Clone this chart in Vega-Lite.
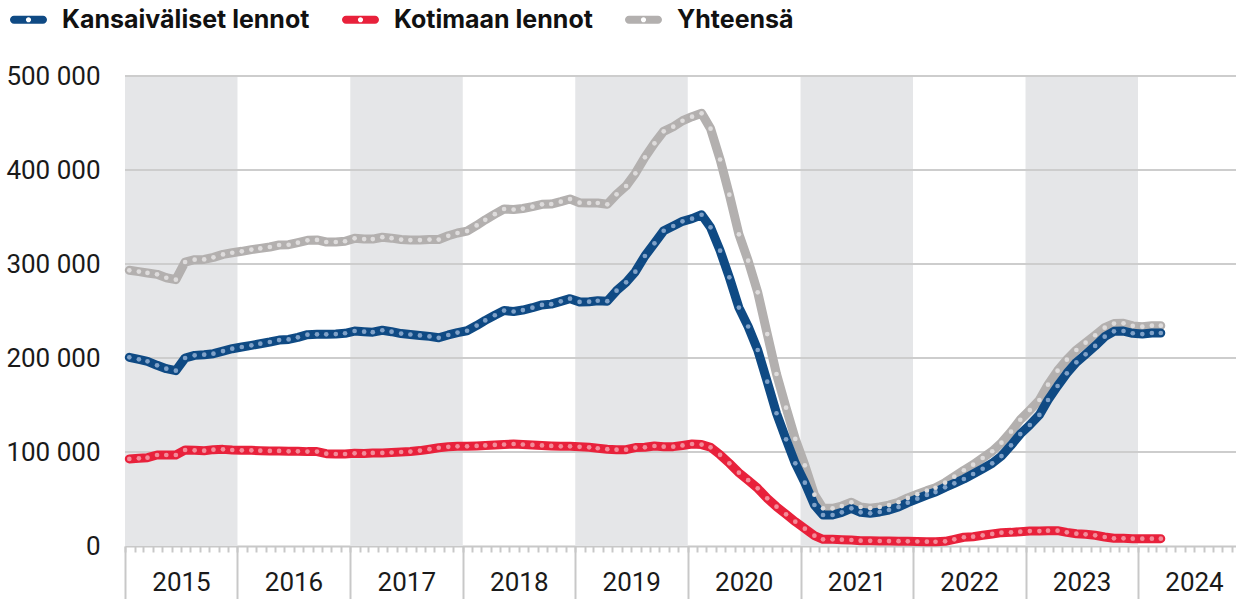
{
  "$schema": "https://vega.github.io/schema/vega-lite/v6.json",
  "width": 1111,
  "height": 470,
  "autosize": {"type": "none"},
  "padding": {"left": 125, "top": 76, "right": 0, "bottom": 53},
  "background": "white",
  "config": {"view": {"stroke": null}, "font": "Roboto"},
  "datasets": {
    "bands": [
      {"start": "2015-01-01", "end": "2016-01-01"},
      {"start": "2017-01-01", "end": "2018-01-01"},
      {"start": "2019-01-01", "end": "2020-01-01"},
      {"start": "2021-01-01", "end": "2022-01-01"},
      {"start": "2023-01-01", "end": "2024-01-01"}
    ],
    "grid": [{"v": 100000}, {"v": 200000}, {"v": 300000}, {"v": 400000}, {"v": 500000}],
    "flights": [
      {"date": "2015-01-15", "Kansaiväliset lennot": 200700, "Kotimaan lennot": 92600, "Yhteensä": 293300},
      {"date": "2015-02-15", "Kansaiväliset lennot": 198600, "Kotimaan lennot": 93300, "Yhteensä": 291900},
      {"date": "2015-03-15", "Kansaiväliset lennot": 196500, "Kotimaan lennot": 94000, "Yhteensä": 290500},
      {"date": "2015-04-15", "Kansaiväliset lennot": 192200, "Kotimaan lennot": 96800, "Yhteensä": 289000},
      {"date": "2015-05-15", "Kansaiväliset lennot": 188600, "Kotimaan lennot": 96800, "Yhteensä": 285400},
      {"date": "2015-06-15", "Kansaiväliset lennot": 186500, "Kotimaan lennot": 96800, "Yhteensä": 283300},
      {"date": "2015-07-15", "Kansaiväliset lennot": 200000, "Kotimaan lennot": 102100, "Yhteensä": 302100},
      {"date": "2015-08-15", "Kansaiväliset lennot": 202800, "Kotimaan lennot": 101800, "Yhteensä": 304600},
      {"date": "2015-09-15", "Kansaiväliset lennot": 203500, "Kotimaan lennot": 101400, "Yhteensä": 304900},
      {"date": "2015-10-15", "Kansaiväliset lennot": 204600, "Kotimaan lennot": 102500, "Yhteensä": 307100},
      {"date": "2015-11-15", "Kansaiväliset lennot": 207400, "Kotimaan lennot": 102800, "Yhteensä": 310200},
      {"date": "2015-12-15", "Kansaiväliset lennot": 209900, "Kotimaan lennot": 102100, "Yhteensä": 312000},
      {"date": "2016-01-15", "Kansaiväliset lennot": 211700, "Kotimaan lennot": 101800, "Yhteensä": 313500},
      {"date": "2016-02-15", "Kansaiväliset lennot": 213500, "Kotimaan lennot": 101800, "Yhteensä": 315300},
      {"date": "2016-03-15", "Kansaiväliset lennot": 215200, "Kotimaan lennot": 101400, "Yhteensä": 316600},
      {"date": "2016-04-15", "Kansaiväliset lennot": 217000, "Kotimaan lennot": 101100, "Yhteensä": 318100},
      {"date": "2016-05-15", "Kansaiväliset lennot": 219100, "Kotimaan lennot": 101100, "Yhteensä": 320200},
      {"date": "2016-06-15", "Kansaiväliset lennot": 219800, "Kotimaan lennot": 100700, "Yhteensä": 320500},
      {"date": "2016-07-15", "Kansaiväliset lennot": 222000, "Kotimaan lennot": 100700, "Yhteensä": 322700},
      {"date": "2016-08-15", "Kansaiväliset lennot": 224800, "Kotimaan lennot": 100400, "Yhteensä": 325200},
      {"date": "2016-09-15", "Kansaiväliset lennot": 225200, "Kotimaan lennot": 100400, "Yhteensä": 325600},
      {"date": "2016-10-15", "Kansaiväliset lennot": 225200, "Kotimaan lennot": 98200, "Yhteensä": 323400},
      {"date": "2016-11-15", "Kansaiväliset lennot": 225500, "Kotimaan lennot": 97900, "Yhteensä": 323400},
      {"date": "2016-12-15", "Kansaiväliset lennot": 226300, "Kotimaan lennot": 97900, "Yhteensä": 324200},
      {"date": "2017-01-15", "Kansaiväliset lennot": 228700, "Kotimaan lennot": 98600, "Yhteensä": 327300},
      {"date": "2017-02-15", "Kansaiväliset lennot": 228000, "Kotimaan lennot": 98500, "Yhteensä": 326500},
      {"date": "2017-03-15", "Kansaiväliset lennot": 227500, "Kotimaan lennot": 99000, "Yhteensä": 326500},
      {"date": "2017-04-15", "Kansaiväliset lennot": 229500, "Kotimaan lennot": 99000, "Yhteensä": 328500},
      {"date": "2017-05-15", "Kansaiväliset lennot": 228000, "Kotimaan lennot": 99500, "Yhteensä": 327500},
      {"date": "2017-06-15", "Kansaiväliset lennot": 226000, "Kotimaan lennot": 100000, "Yhteensä": 326000},
      {"date": "2017-07-15", "Kansaiväliset lennot": 225000, "Kotimaan lennot": 100500, "Yhteensä": 325500},
      {"date": "2017-08-15", "Kansaiväliset lennot": 224000, "Kotimaan lennot": 101500, "Yhteensä": 325500},
      {"date": "2017-09-15", "Kansaiväliset lennot": 223000, "Kotimaan lennot": 103000, "Yhteensä": 326000},
      {"date": "2017-10-15", "Kansaiväliset lennot": 221500, "Kotimaan lennot": 104500, "Yhteensä": 326000},
      {"date": "2017-11-15", "Kansaiväliset lennot": 224500, "Kotimaan lennot": 105500, "Yhteensä": 330000},
      {"date": "2017-12-15", "Kansaiväliset lennot": 227000, "Kotimaan lennot": 106000, "Yhteensä": 333000},
      {"date": "2018-01-15", "Kansaiväliset lennot": 229000, "Kotimaan lennot": 106000, "Yhteensä": 335000},
      {"date": "2018-02-15", "Kansaiväliset lennot": 234500, "Kotimaan lennot": 106500, "Yhteensä": 341000},
      {"date": "2018-03-15", "Kansaiväliset lennot": 240000, "Kotimaan lennot": 107000, "Yhteensä": 347000},
      {"date": "2018-04-15", "Kansaiväliset lennot": 245500, "Kotimaan lennot": 107500, "Yhteensä": 353000},
      {"date": "2018-05-15", "Kansaiväliset lennot": 250500, "Kotimaan lennot": 108000, "Yhteensä": 358500},
      {"date": "2018-06-15", "Kansaiväliset lennot": 249500, "Kotimaan lennot": 108500, "Yhteensä": 358000},
      {"date": "2018-07-15", "Kansaiväliset lennot": 251000, "Kotimaan lennot": 108000, "Yhteensä": 359000},
      {"date": "2018-08-15", "Kansaiväliset lennot": 253500, "Kotimaan lennot": 107500, "Yhteensä": 361000},
      {"date": "2018-09-15", "Kansaiväliset lennot": 256500, "Kotimaan lennot": 107000, "Yhteensä": 363500},
      {"date": "2018-10-15", "Kansaiväliset lennot": 257300, "Kotimaan lennot": 106500, "Yhteensä": 363800},
      {"date": "2018-11-15", "Kansaiväliset lennot": 260300, "Kotimaan lennot": 106000, "Yhteensä": 366300},
      {"date": "2018-12-15", "Kansaiväliset lennot": 263100, "Kotimaan lennot": 106000, "Yhteensä": 369100},
      {"date": "2019-01-15", "Kansaiväliset lennot": 259700, "Kotimaan lennot": 105500, "Yhteensä": 365200},
      {"date": "2019-02-15", "Kansaiväliset lennot": 259900, "Kotimaan lennot": 105000, "Yhteensä": 364900},
      {"date": "2019-03-15", "Kansaiväliset lennot": 260900, "Kotimaan lennot": 104000, "Yhteensä": 364900},
      {"date": "2019-04-15", "Kansaiväliset lennot": 260500, "Kotimaan lennot": 103000, "Yhteensä": 363500},
      {"date": "2019-05-15", "Kansaiväliset lennot": 271600, "Kotimaan lennot": 102500, "Yhteensä": 374100},
      {"date": "2019-06-15", "Kansaiväliset lennot": 280500, "Kotimaan lennot": 102500, "Yhteensä": 383000},
      {"date": "2019-07-15", "Kansaiväliset lennot": 291800, "Kotimaan lennot": 104700, "Yhteensä": 396500},
      {"date": "2019-08-15", "Kansaiväliset lennot": 308500, "Kotimaan lennot": 105000, "Yhteensä": 413500},
      {"date": "2019-09-15", "Kansaiväliset lennot": 322000, "Kotimaan lennot": 106400, "Yhteensä": 428400},
      {"date": "2019-10-15", "Kansaiväliset lennot": 335400, "Kotimaan lennot": 105700, "Yhteensä": 441100},
      {"date": "2019-11-15", "Kansaiväliset lennot": 340400, "Kotimaan lennot": 105700, "Yhteensä": 446100},
      {"date": "2019-12-15", "Kansaiväliset lennot": 345400, "Kotimaan lennot": 107000, "Yhteensä": 452400},
      {"date": "2020-01-15", "Kansaiväliset lennot": 348200, "Kotimaan lennot": 108500, "Yhteensä": 456700},
      {"date": "2020-02-15", "Kansaiväliset lennot": 352400, "Kotimaan lennot": 107900, "Yhteensä": 460300},
      {"date": "2020-03-15", "Kansaiväliset lennot": 339000, "Kotimaan lennot": 105000, "Yhteensä": 444000},
      {"date": "2020-04-15", "Kansaiväliset lennot": 314200, "Kotimaan lennot": 97000, "Yhteensä": 411200},
      {"date": "2020-05-15", "Kansaiväliset lennot": 285800, "Kotimaan lennot": 88000, "Yhteensä": 373800},
      {"date": "2020-06-15", "Kansaiväliset lennot": 253600, "Kotimaan lennot": 78000, "Yhteensä": 331600},
      {"date": "2020-07-15", "Kansaiväliset lennot": 233500, "Kotimaan lennot": 70000, "Yhteensä": 303500},
      {"date": "2020-08-15", "Kansaiväliset lennot": 208500, "Kotimaan lennot": 61400, "Yhteensä": 269900},
      {"date": "2020-09-15", "Kansaiväliset lennot": 174800, "Kotimaan lennot": 50700, "Yhteensä": 225500},
      {"date": "2020-10-15", "Kansaiväliset lennot": 141200, "Kotimaan lennot": 41800, "Yhteensä": 183000},
      {"date": "2020-11-15", "Kansaiväliset lennot": 113500, "Kotimaan lennot": 33700, "Yhteensä": 147200},
      {"date": "2020-12-15", "Kansaiväliset lennot": 88000, "Kotimaan lennot": 25900, "Yhteensä": 113900},
      {"date": "2021-01-15", "Kansaiväliset lennot": 67400, "Kotimaan lennot": 18400, "Yhteensä": 85800},
      {"date": "2021-02-15", "Kansaiväliset lennot": 43600, "Kotimaan lennot": 11000, "Yhteensä": 54600},
      {"date": "2021-03-15", "Kansaiväliset lennot": 33000, "Kotimaan lennot": 7100, "Yhteensä": 40100},
      {"date": "2021-04-15", "Kansaiväliset lennot": 33000, "Kotimaan lennot": 7100, "Yhteensä": 40100},
      {"date": "2021-05-15", "Kansaiväliset lennot": 35800, "Kotimaan lennot": 6700, "Yhteensä": 42500},
      {"date": "2021-06-15", "Kansaiväliset lennot": 40100, "Kotimaan lennot": 6400, "Yhteensä": 46500},
      {"date": "2021-07-15", "Kansaiväliset lennot": 35800, "Kotimaan lennot": 5700, "Yhteensä": 41500},
      {"date": "2021-08-15", "Kansaiväliset lennot": 34800, "Kotimaan lennot": 5500, "Yhteensä": 40300},
      {"date": "2021-09-15", "Kansaiväliset lennot": 36200, "Kotimaan lennot": 5300, "Yhteensä": 41500},
      {"date": "2021-10-15", "Kansaiväliset lennot": 38300, "Kotimaan lennot": 5200, "Yhteensä": 43500},
      {"date": "2021-11-15", "Kansaiväliset lennot": 41500, "Kotimaan lennot": 5100, "Yhteensä": 46600},
      {"date": "2021-12-15", "Kansaiväliset lennot": 46100, "Kotimaan lennot": 5000, "Yhteensä": 51100},
      {"date": "2022-01-15", "Kansaiväliset lennot": 50300, "Kotimaan lennot": 4800, "Yhteensä": 55100},
      {"date": "2022-02-15", "Kansaiväliset lennot": 54300, "Kotimaan lennot": 4600, "Yhteensä": 58900},
      {"date": "2022-03-15", "Kansaiväliset lennot": 57400, "Kotimaan lennot": 4500, "Yhteensä": 61900},
      {"date": "2022-04-15", "Kansaiväliset lennot": 62400, "Kotimaan lennot": 5000, "Yhteensä": 67400},
      {"date": "2022-05-15", "Kansaiväliset lennot": 66700, "Kotimaan lennot": 7100, "Yhteensä": 73800},
      {"date": "2022-06-15", "Kansaiväliset lennot": 71300, "Kotimaan lennot": 9300, "Yhteensä": 80600},
      {"date": "2022-07-15", "Kansaiväliset lennot": 76600, "Kotimaan lennot": 9900, "Yhteensä": 86500},
      {"date": "2022-08-15", "Kansaiväliset lennot": 82200, "Kotimaan lennot": 11400, "Yhteensä": 93600},
      {"date": "2022-09-15", "Kansaiväliset lennot": 88000, "Kotimaan lennot": 12800, "Yhteensä": 100800},
      {"date": "2022-10-15", "Kansaiväliset lennot": 95700, "Kotimaan lennot": 14200, "Yhteensä": 109900},
      {"date": "2022-11-15", "Kansaiväliset lennot": 107100, "Kotimaan lennot": 14500, "Yhteensä": 121600},
      {"date": "2022-12-15", "Kansaiväliset lennot": 119100, "Kotimaan lennot": 15200, "Yhteensä": 134300},
      {"date": "2023-01-15", "Kansaiväliset lennot": 128700, "Kotimaan lennot": 15900, "Yhteensä": 144600},
      {"date": "2023-02-15", "Kansaiväliset lennot": 139400, "Kotimaan lennot": 15900, "Yhteensä": 155300},
      {"date": "2023-03-15", "Kansaiväliset lennot": 155300, "Kotimaan lennot": 16300, "Yhteensä": 171600},
      {"date": "2023-04-15", "Kansaiväliset lennot": 170200, "Kotimaan lennot": 16300, "Yhteensä": 186500},
      {"date": "2023-05-15", "Kansaiväliset lennot": 183700, "Kotimaan lennot": 14500, "Yhteensä": 198200},
      {"date": "2023-06-15", "Kansaiväliset lennot": 195400, "Kotimaan lennot": 13100, "Yhteensä": 208500},
      {"date": "2023-07-15", "Kansaiväliset lennot": 203900, "Kotimaan lennot": 12400, "Yhteensä": 216300},
      {"date": "2023-08-15", "Kansaiväliset lennot": 212800, "Kotimaan lennot": 11400, "Yhteensä": 224200},
      {"date": "2023-09-15", "Kansaiväliset lennot": 222700, "Kotimaan lennot": 9600, "Yhteensä": 232300},
      {"date": "2023-10-15", "Kansaiväliset lennot": 228400, "Kotimaan lennot": 8200, "Yhteensä": 236600},
      {"date": "2023-11-15", "Kansaiväliset lennot": 228700, "Kotimaan lennot": 8200, "Yhteensä": 236900},
      {"date": "2023-12-15", "Kansaiväliset lennot": 226300, "Kotimaan lennot": 7800, "Yhteensä": 234100},
      {"date": "2024-01-15", "Kansaiväliset lennot": 225500, "Kotimaan lennot": 7800, "Yhteensä": 233300},
      {"date": "2024-02-15", "Kansaiväliset lennot": 226600, "Kotimaan lennot": 7800, "Yhteensä": 234400},
      {"date": "2024-03-15", "Kansaiväliset lennot": 226600, "Kotimaan lennot": 7800, "Yhteensä": 234400}
    ]
  },
  "layer": [
    {
      "data": {"name": "bands"},
      "mark": {"type": "rect", "color": "#e5e6e8"},
      "encoding": {
        "x": {"field": "start", "type": "temporal", "scale": {"domain": ["2015-01-01", "2024-11-14"], "nice": false}, "axis": null},
        "x2": {"field": "end"}
      }
    },
    {
      "data": {"name": "grid"},
      "mark": {"type": "rule", "color": "#cdcdcd", "strokeWidth": 2},
      "encoding": {
        "y": {
          "field": "v", "type": "quantitative",
          "scale": {"domain": [0, 500000], "nice": false},
          "axis": {
            "orient": "left", "title": null,
            "values": [0, 100000, 200000, 300000, 400000, 500000],
            "domain": false, "ticks": false, "grid": false,
            "labelPadding": 25, "labelFont": "Roboto", "labelFontSize": 26, "labelColor": "#1a1a1a",
            "labelFlush": false, "labelOverlap": false, "labelBaseline": "middle",
            "labelExpr": "datum.value == 0 ? '0' : format(datum.value / 1000, 'd') + ' 000'",
            "encode": {"labels": {"update": {"dy": {"signal": "datum.value == 0 ? -6 : -3"}}}}
          }
        }
      }
    },
    {
      "data": {"name": "flights"},
      "transform": [{"fold": ["Yhteensä", "Kansaiväliset lennot", "Kotimaan lennot"], "as": ["series", "value"]}],
      "mark": {"type": "line", "strokeWidth": 9, "strokeCap": "round", "strokeJoin": "round"},
      "encoding": {
        "x": {
          "field": "date", "type": "temporal",
          "scale": {"domain": ["2015-01-01", "2024-11-14"], "nice": false},
          "axis": {
            "orient": "bottom", "title": null, "labels": false, "grid": false,
            "tickCount": {"interval": "month", "step": 1},
            "domain": true, "domainColor": "#c8c8c8", "domainWidth": 2,
            "tickColor": "#c8c8c8", "tickWidth": 2, "tickSize": 6
          }
        },
        "y": {"field": "value", "type": "quantitative", "scale": {"domain": [0, 500000], "nice": false}, "axis": null},
        "color": {
          "field": "series", "type": "nominal",
          "scale": {"domain": ["Kansaiväliset lennot", "Kotimaan lennot", "Yhteensä"], "range": ["#0f4a84", "#e8213b", "#b3b0af"]},
          "legend": {
            "orient": "none", "legendX": -115, "legendY": -75, "direction": "horizontal", "title": null,
            "symbolType": "M -0.784 -0.216 L 0.784 -0.216 A 0.216 0.216 0 0 1 0.784 0.216 L -0.784 0.216 A 0.216 0.216 0 0 1 -0.784 -0.216 Z M 0.14 0 A 0.14 0.14 0 0 0 -0.14 0 A 0.14 0.14 0 0 0 0.14 0 Z",
            "symbolSize": 1369, "symbolStrokeWidth": 0, "symbolOpacity": 1,
            "labelFont": "Inter", "labelFontWeight": "bold", "labelFontSize": 25, "labelColor": "#111111",
            "labelLimit": 500, "labelOffset": 15, "columnPadding": 32, "padding": 0,
            "encode": {"symbols": {"update": {
              "fill": {"signal": "datum.value == 'Kotimaan lennot' ? '#e8213b' : datum.value == 'Yhteensä' ? '#b3b0af' : '#0f4a84'"},
              "opacity": {"value": 1}, "fillOpacity": {"value": 1}}}}
          }
        }
      }
    },
    {
      "data": {"name": "flights"},
      "transform": [{"fold": ["Yhteensä", "Kansaiväliset lennot", "Kotimaan lennot"], "as": ["series", "value"]}],
      "mark": {"type": "point", "filled": true, "size": 22, "opacity": 1, "strokeWidth": 0},
      "encoding": {
        "x": {
          "field": "date", "type": "temporal",
          "scale": {"domain": ["2015-01-01", "2024-11-14"], "nice": false},
          "axis": {
            "orient": "bottom", "title": null, "grid": false, "domain": false,
            "tickCount": {"interval": "year", "step": 1}, "format": "%Y",
            "tickColor": "#c8c8c8", "tickWidth": 2, "tickSize": 53,
            "labelAlign": "center", "labelBaseline": "middle", "labelOffset": 56, "labelPadding": -17,
            "labelFont": "Roboto", "labelFontSize": 26, "labelColor": "#1a1a1a",
            "labelFlush": false, "labelOverlap": false, "labelBound": false
          }
        },
        "y": {"field": "value", "type": "quantitative", "scale": {"domain": [0, 500000], "nice": false}, "axis": null},
        "color": {
          "field": "series", "type": "nominal",
          "scale": {"domain": ["Kansaiväliset lennot", "Kotimaan lennot", "Yhteensä"], "range": ["#7fa1c8", "#f38b99", "#dedcdc"]},
          "legend": null
        }
      }
    }
  ],
  "resolve": {"scale": {"color": "independent"}, "axis": {"x": "independent", "y": "independent"}}
}
